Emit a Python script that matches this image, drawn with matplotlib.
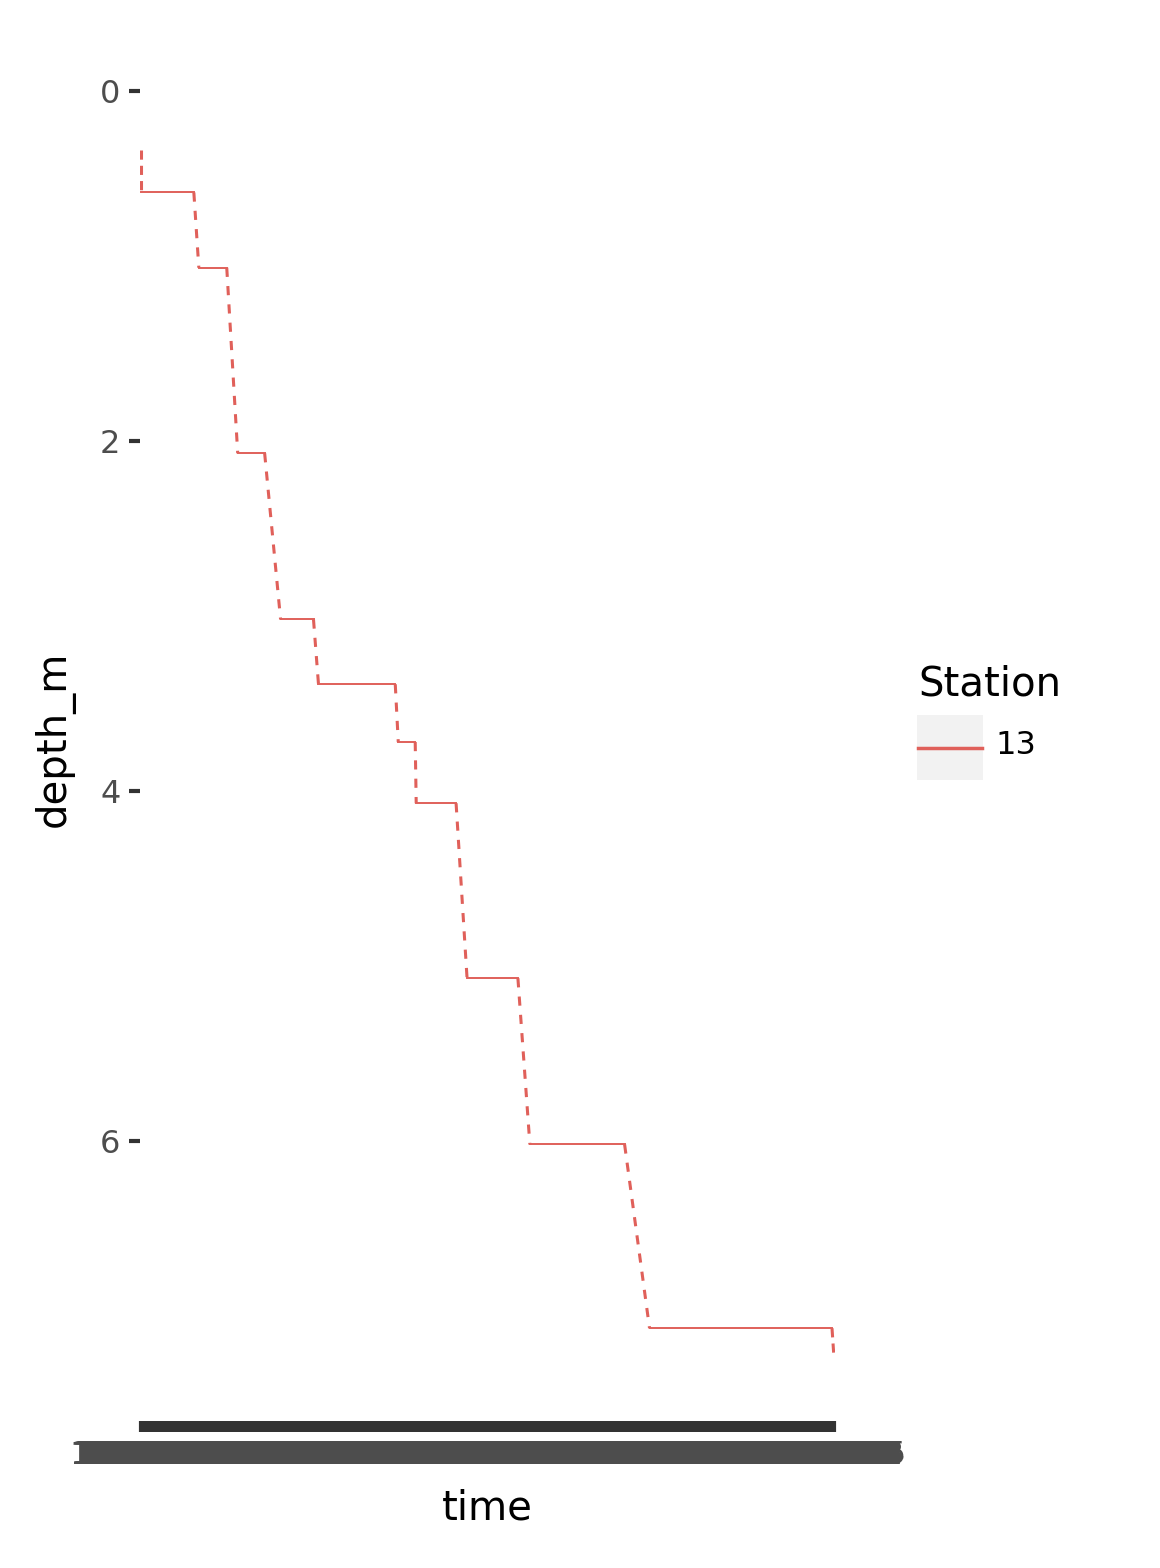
import matplotlib
matplotlib.use("Agg")
import matplotlib.pyplot as plt
from matplotlib.lines import Line2D
from matplotlib.patches import Rectangle

# plateaus: (start index, end index, depth)
plateau_start = [0, 58, 97, 140, 178, 258, 276, 327, 390, 510]
plateau_end   = [53, 86, 124, 173, 255, 275, 316, 378, 485, 693]
plateau_depth = [0.58, 1.01, 2.07, 3.02, 3.39, 3.72, 4.07, 5.07, 6.02, 7.07]
first_depth = 0.34
last_depth = 7.24
n_times = 696
time_labels = ["%02d:%02d:%02d" % (10 + i // 3600, (i // 60) % 60, i % 60) for i in range(n_times)]
station = "13"

col = "#E0605A"
fig = plt.figure(figsize=(11.6, 15.68), dpi=100)
ax = fig.add_axes([140/1160, 1-1421/1568, 695/1160, (1421-56)/1568])
ax.set_facecolor("white")
for s in ax.spines.values():
    s.set_visible(False)

lw = 2.2
ax.plot([0, 0], [first_depth, plateau_depth[0]], color=col, lw=lw, ls=(0, (3, 2)))
for i in range(len(plateau_start) - 1):
    ax.plot([plateau_end[i], plateau_start[i+1]], [plateau_depth[i], plateau_depth[i+1]],
            color=col, lw=lw, ls=(0, (3, 3)))
ax.plot([plateau_end[-1], n_times-1], [plateau_depth[-1], last_depth], color=col, lw=lw, ls=(0, (3, 2)))
for a, b, d in zip(plateau_start, plateau_end, plateau_depth):
    ax.plot([a, b], [d, d], color=col, lw=1.4)

ax.set_xlim(-1, n_times)
ax.set_ylim(7.6, -0.2)
ax.set_yticks([0, 2, 4, 6])
ax.set_xticks(range(n_times))
ax.set_xticklabels(time_labels)
ax.tick_params(axis="y", labelsize=23, labelcolor="#4D4D4D", color="#333333", length=8, width=3, pad=6)
ax.tick_params(axis="x", labelsize=23, labelcolor="#4D4D4D", color="#333333", length=8, width=3, pad=6)
ax.set_xlabel("time", fontsize=29, labelpad=12)
ax.set_ylabel("depth_m", fontsize=29, labelpad=18)

fig.text(918/1160, 1-685/1568, "Station", fontsize=29, va="center", ha="left")
fig.add_artist(Rectangle((917/1160, 1-780/1568), 66/1160, 65/1568, transform=fig.transFigure,
                         facecolor="#F2F2F2", edgecolor="none"))
fig.add_artist(Line2D([918/1160, 982/1160], [1-748/1568]*2, transform=fig.transFigure, color=col, lw=2.5))
fig.text(995/1160, 1-746/1568, station, fontsize=23, va="center", ha="left")

fig.savefig("out.png", dpi=100)
